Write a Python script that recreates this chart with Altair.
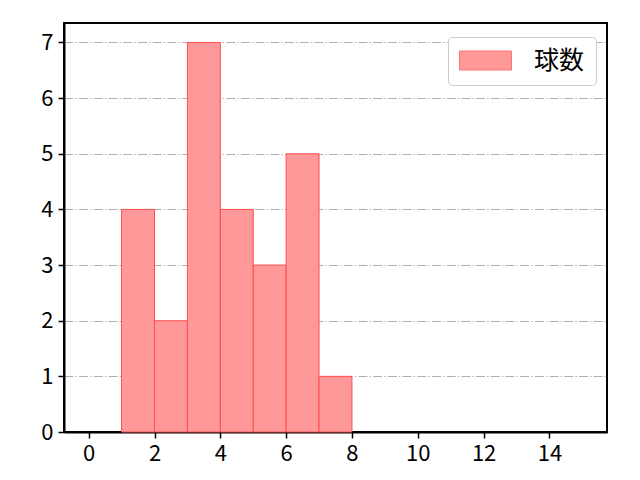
import altair as alt
import pandas as pd

bin_start = [1, 2, 3, 4, 5, 6, 7]
bin_end = [2, 3, 4, 5, 6, 7, 8]
counts = [4, 2, 7, 4, 3, 5, 1]
series = ["球数"] * len(counts)

df = pd.DataFrame({"start": bin_start, "end": bin_end, "count": counts, "series": series})

FONT = "Noto Sans CJK JP"

bars = alt.Chart(df).mark_rect(stroke="#ff4d4d", strokeWidth=1).encode(
    x=alt.X("start:Q",
            scale=alt.Scale(domain=[-0.75, 15.75], nice=False, zero=False),
            axis=alt.Axis(values=[0, 2, 4, 6, 8, 10, 12, 14], grid=False, title=None,
                          format="d")),
    x2="end:Q",
    y=alt.Y("count:Q",
            scale=alt.Scale(domain=[0, 7.35], nice=False),
            axis=alt.Axis(values=[0, 1, 2, 3, 4, 5, 6, 7], grid=True, title=None,
                          format="d",
                          gridColor="#b0b0b0", gridWidth=1.2,
                          gridDash=[8.9, 2.2, 1.4, 2.2])),
    y2=alt.datum(0),
    fill=alt.Fill("series:N",
                  scale=alt.Scale(range=["#ff9999"]),
                  legend=alt.Legend(title=None, orient="none", legendX=384, legendY=14,
                                    symbolType="M-2.17,-0.79H2.17V0.79H-2.17Z",
                                    symbolSize=576,
                                    symbolOffset=14,
                                    symbolStrokeColor="#ff7070", symbolStrokeWidth=1,
                                    labelFont=FONT, labelFontSize=25, labelColor="#000000",
                                    labelOffset=36,
                                    padding=11, strokeColor="#cccccc", fillColor="#ffffff",
                                    cornerRadius=4)),
)

chart = bars.properties(
    width=543, height=409,
    autosize=alt.AutoSizeParams(type="none"),
    padding={"left": 56, "top": 15, "right": 25, "bottom": 40},
).configure_view(
    stroke="#000000", strokeWidth=2,
).configure_axis(
    domain=True, domainColor="#000000", domainWidth=2,
    ticks=True, tickColor="#000000", tickSize=6, tickWidth=1.5,
    labelFont=FONT, labelFontSize=22, labelColor="#000000", labelPadding=5,
)

chart.save("out.html", embed_options={"renderer": "svg", "actions": False})
